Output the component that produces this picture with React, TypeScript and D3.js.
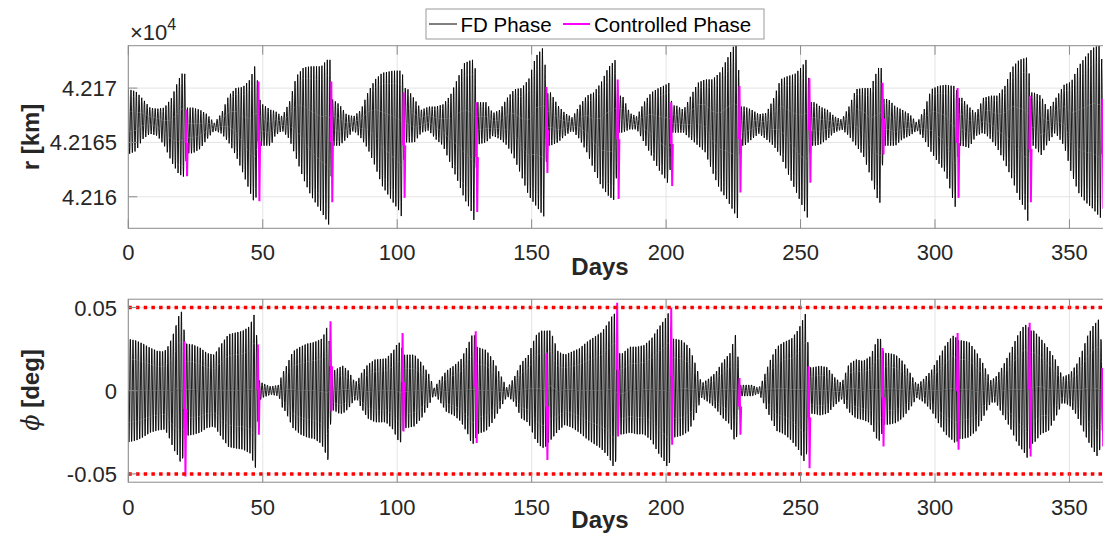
import React from 'react';
import * as d3 from 'd3';

const W = 1103;
const H = 534;
const FONT = '"Liberation Sans", Arial, Helvetica, sans-serif';

// ---- axis ticks ----
const xTickVals = [0, 50, 100, 150, 200, 250, 300, 350];
const rTickVals = [42160, 42165, 42170];
const rTickLabels = ['4.216', '4.2165', '4.217'];
const phiTickVals = [-0.05, 0, 0.05];
const phiTickLabels = ['-0.05', '0', '0.05'];
const phiBounds = [0.05, -0.05];

// ---- r [km] daily-oscillation envelope (FD phase) ----
const rEnvDay = [
  0, 2.8, 5.4, 8.1, 10.8, 13.4, 16.1, 18.7, 20.9,
  21.8, 24, 26.7, 29.3, 32, 34.7, 37.3, 40, 42.6, 45.3, 47.3,
  48.8, 50, 53, 54.6, 57.2, 59.9, 62.5, 65.2, 67.9, 71.8, 73.8, 75.0,
  75.8, 78.5, 81.1, 83.8, 86.5, 89.1, 91.8, 94.4, 98.4, 101, 101.8,
  102.7, 103.7, 106.4, 109, 111.7, 114.3, 117, 119.7, 122.3, 125, 127.7, 128.8,
  129.8, 133, 135.6, 138.2, 140.9, 143.6, 146.2, 148.9, 151.5, 154.5,
  155.8, 157, 159.8, 162.4, 165.1, 167.8, 170.5, 173.1, 175.8, 178.5, 181.1,
  182.3, 183.8, 186.5, 189.1, 191.8, 194.5, 197.2, 199.8, 201.2,
  202.2, 203.8, 206.5, 209.2, 211.9, 214.5, 217.2, 219.9, 222.5, 225.2, 226.6,
  227.6, 229.2, 231.9, 234.5, 237.2, 239.9, 242.5, 245.2, 247.9, 250.6, 252.5,
  253.6, 255.3, 257.3, 260, 262.6, 265.3, 268, 270.6, 273.3, 276, 278.6, 279.9,
  280.8, 282.6, 285.3, 287.9, 290.6, 293.3, 295.9, 298.6, 301.3, 303.9, 306.6, 307.6,
  308.7, 310, 312.6, 315.3, 318, 320.7, 323.3, 326, 328.7, 331.3, 334, 334.5,
  335.6, 336.7, 339.4, 342.1, 344.7, 348, 350.7, 353.3, 356, 358.7, 360.7, 361.8,
  362.6, 365,
];
const rEnvUpper = [
  42169.9, 42169.7, 42169.0, 42168.2, 42168.1, 42168.2, 42169.1, 42170.8, 42171.7,
  42168.2, 42168.2, 42168.0, 42167.6, 42166.8, 42167.7, 42169.3, 42170.0, 42170.1, 42170.8, 42172.2,
  42169.0, 42168.5, 42168.0, 42167.9, 42167.4, 42168.7, 42171.1, 42171.9, 42172.0, 42172.0, 42172.6, 42172.6,
  42169.0, 42168.5, 42167.6, 42167.4, 42168.0, 42169.6, 42170.8, 42171.4, 42171.6, 42171.6, 42171.6,
  42170.0, 42170.0, 42169.0, 42168.0, 42168.3, 42168.3, 42168.5, 42169.3, 42170.8, 42172.3, 42172.6, 42172.6,
  42168.7, 42168.7, 42167.7, 42168.0, 42169.1, 42169.9, 42170.0, 42170.8, 42172.9, 42173.8,
  42169.5, 42169.6, 42168.4, 42167.7, 42167.3, 42168.4, 42169.3, 42169.6, 42170.5, 42171.9, 42172.6,
  42169.3, 42169.3, 42167.7, 42167.4, 42168.7, 42169.6, 42170.0, 42170.3, 42170.5,
  42168.4, 42168.4, 42168.0, 42169.3, 42170.5, 42170.8, 42170.8, 42171.4, 42172.6, 42173.9, 42173.9,
  42168.3, 42168.3, 42168.0, 42167.6, 42167.7, 42169.0, 42170.8, 42171.1, 42171.3, 42172.0, 42172.8,
  42168.7, 42168.7, 42168.3, 42168.0, 42167.4, 42167.1, 42168.3, 42169.9, 42170.0, 42170.0, 42171.7, 42172.2,
  42169.0, 42169.0, 42168.3, 42168.0, 42167.6, 42166.8, 42168.0, 42169.9, 42170.2, 42170.3, 42170.2, 42170.2,
  42169.1, 42169.1, 42168.3, 42167.7, 42169.1, 42169.3, 42169.3, 42170.2, 42171.9, 42172.6, 42172.8, 42172.8,
  42169.6, 42169.6, 42169.3, 42168.0, 42169.0, 42170.3, 42170.6, 42172.0, 42172.9, 42173.7, 42173.9, 42173.9,
  42169.0, 42169.0,
];
const rEnvLower = [
  42163.9, 42164.2, 42165.3, 42165.8, 42165.6, 42164.7, 42163.2, 42162.1, 42161.8,
  42164.0, 42164.0, 42164.4, 42165.3, 42166.1, 42165.8, 42165.0, 42163.8, 42162.2, 42160.4, 42159.2,
  42164.7, 42164.7, 42164.7, 42165.6, 42166.1, 42165.3, 42163.5, 42161.6, 42160.1, 42158.6, 42157.8, 42157.2,
  42164.7, 42164.7, 42165.3, 42166.1, 42165.4, 42164.4, 42162.8, 42161.0, 42159.5, 42158.6, 42158.0,
  42165.0, 42165.0, 42165.0, 42165.9, 42166.1, 42165.3, 42164.7, 42163.1, 42161.6, 42159.8, 42158.6, 42157.6,
  42164.8, 42165.0, 42165.6, 42165.3, 42164.7, 42163.5, 42161.9, 42160.1, 42159.2, 42158.2,
  42164.7, 42164.7, 42165.0, 42165.6, 42166.1, 42165.3, 42164.1, 42162.5, 42161.0, 42160.1, 42159.6,
  42165.9, 42165.9, 42166.2, 42166.2, 42165.0, 42163.8, 42162.5, 42161.6, 42161.0,
  42165.9, 42165.9, 42165.9, 42165.3, 42164.7, 42164.1, 42162.3, 42160.7, 42159.8, 42158.6, 42158.0,
  42164.7, 42164.7, 42165.3, 42165.8, 42165.3, 42164.7, 42163.8, 42162.2, 42160.7, 42159.2, 42158.1,
  42164.7, 42164.7, 42164.8, 42165.3, 42165.9, 42166.2, 42165.6, 42164.7, 42163.8, 42161.9, 42159.8, 42159.3,
  42164.7, 42164.7, 42164.7, 42165.3, 42165.6, 42166.1, 42165.3, 42164.1, 42163.1, 42162.2, 42159.8, 42159.0,
  42164.7, 42164.7, 42164.5, 42165.6, 42165.9, 42165.3, 42164.4, 42163.1, 42161.6, 42159.8, 42158.6, 42157.8,
  42164.7, 42164.7, 42163.8, 42165.0, 42165.9, 42164.7, 42162.2, 42160.4, 42159.5, 42158.9, 42158.3, 42158.0,
  42164.7, 42164.7,
];

// ---- phi [deg] daily-oscillation envelope (FD phase) ----
const phiEnvDay = [
  0, 2.8, 5.4, 8.1, 10.8, 13.4, 14.7, 16.1, 17.4, 18.7, 19.8,
  21.4, 24, 26.7, 29.3, 32, 34.7, 37.3, 40, 42.6, 45.3, 46.6, 47.3,
  48.6, 50, 53, 56, 57.2, 58.6, 61.2, 63.9, 66.5, 69.2, 71.8, 73.2, 74.2,
  75.6, 76.5, 78.5, 79.8, 81.8, 83.8, 85.1, 86.5, 89.1, 91.8, 95.8, 98.4, 100.4, 101.3,
  102.4, 103.7, 106.4, 109, 111.7, 113.7, 115.7, 118.4, 121, 123.7, 126.3, 127.7, 128.6,
  129.6, 133, 135.6, 138.2, 140.9, 143.6, 146.2, 148.9, 151.5, 153.5, 154.8,
  155.9, 157, 159.8, 162.4, 165.1, 167.8, 170.5, 173.1, 175.8, 178.5, 179.8, 180.9,
  182.2, 183.8, 186.5, 189.1, 191.8, 194.5, 197.2, 199.8, 200.9,
  202.3, 203.2, 205.8, 208.5, 210.5, 213.2, 215.9, 218.5, 221.2, 223.8, 225.9,
  227.7, 228.6, 231.9, 234.5, 235.9, 238.6, 241.2, 243.9, 246.6, 249.3, 251.9,
  253.4, 254.6, 257.3, 260, 262.6, 265.3, 268, 270.6, 273.3, 276, 278.6, 279.7,
  280.9, 282.6, 285.3, 287.9, 290.6, 293.3, 295.9, 298.6, 301.3, 303.9, 306.6, 307.7,
  308.8, 310, 312.6, 315.3, 318, 320.7, 322.6, 325.3, 328, 330.7, 333.4, 334.4,
  335.6, 336.7, 339.4, 342.1, 344.7, 347.4, 350.1, 352.7, 354.7, 356.8, 358.8, 360.8,
  362.6, 365,
];
const phiEnvUpper = [
  0.0327, 0.0317, 0.0297, 0.0271, 0.0251, 0.0247, 0.0277, 0.0327, 0.0388, 0.0468, 0.0498,
  0.0297, 0.0291, 0.0271, 0.0237, 0.0227, 0.0297, 0.0357, 0.0367, 0.0378, 0.0408, 0.0478, 0.0478,
  0.0066, 0.0046, 0.0026, 0.0036, 0.0106, 0.0147, 0.0247, 0.0277, 0.0297, 0.0307, 0.0327, 0.0367, 0.0418,
  0.0127, 0.0127, 0.0147, 0.0157, 0.0127, 0.0066, 0.0056, 0.0106, 0.0167, 0.0197, 0.0203, 0.0247, 0.0307, 0.0297,
  0.0227, 0.0227, 0.0227, 0.0177, 0.0106, 0.0016, 0.0066, 0.0127, 0.0157, 0.0197, 0.0287, 0.0347, 0.0357,
  0.0277, 0.0257, 0.0197, 0.0106, 0.0016, 0.0086, 0.0177, 0.0227, 0.0347, 0.0378, 0.0378,
  0.0378, 0.0378, 0.0247, 0.0227, 0.0247, 0.0267, 0.0307, 0.0337, 0.0367, 0.0428, 0.0468, 0.0488,
  0.0237, 0.0237, 0.0277, 0.0277, 0.0287, 0.0327, 0.0398, 0.0458, 0.0492,
  0.0327, 0.0327, 0.0317, 0.0277, 0.0187, 0.0046, 0.0076, 0.0116, 0.0187, 0.0237, 0.0357,
  0.0036, 0.0036, 0.0036, 0.0016, 0.0066, 0.0187, 0.0277, 0.0307, 0.0327, 0.0388, 0.0488,
  0.0147, 0.0147, 0.0157, 0.0147, 0.0086, 0.0046, 0.0167, 0.0197, 0.0187, 0.0217, 0.0327, 0.0327,
  0.0237, 0.0237, 0.0227, 0.0187, 0.0116, 0.0036, 0.0076, 0.0127, 0.0207, 0.0287, 0.0347, 0.0337,
  0.0317, 0.0317, 0.0307, 0.0247, 0.0167, 0.0066, 0.0086, 0.0157, 0.0247, 0.0347, 0.0418, 0.0408,
  0.0378, 0.0378, 0.0327, 0.0267, 0.0197, 0.0086, 0.0106, 0.0167, 0.0247, 0.0347, 0.0408, 0.0448,
  0.0200, 0.0200,
];
const phiEnvLower = [
  -0.0325, -0.0315, -0.0295, -0.0265, -0.0251, -0.0245, -0.0275, -0.0335, -0.0386, -0.0416, -0.0476,
  -0.0285, -0.0279, -0.0265, -0.0235, -0.0225, -0.0295, -0.0355, -0.0365, -0.0371, -0.0396, -0.0456, -0.0486,
  -0.0066, -0.0044, -0.0024, -0.0034, -0.0104, -0.0135, -0.0235, -0.0275, -0.0295, -0.0305, -0.0335, -0.0386, -0.0436,
  -0.0124, -0.0124, -0.0145, -0.0145, -0.0114, -0.0064, -0.0054, -0.0104, -0.0175, -0.0199, -0.0199, -0.0245, -0.0315, -0.0325,
  -0.0235, -0.0235, -0.0225, -0.0175, -0.0094, -0.0024, -0.0064, -0.0135, -0.0155, -0.0195, -0.0275, -0.0335, -0.0335,
  -0.0275, -0.0255, -0.0195, -0.0114, -0.0034, -0.0074, -0.0175, -0.0205, -0.0315, -0.0355, -0.0365,
  -0.0335, -0.0315, -0.0255, -0.0215, -0.0235, -0.0265, -0.0305, -0.0335, -0.0365, -0.0416, -0.0456, -0.0500,
  -0.0275, -0.0275, -0.0265, -0.0275, -0.0275, -0.0315, -0.0396, -0.0456, -0.0500,
  -0.0295, -0.0295, -0.0285, -0.0255, -0.0175, -0.0044, -0.0074, -0.0114, -0.0175, -0.0215, -0.0345,
  -0.0034, -0.0034, -0.0034, -0.0018, -0.0064, -0.0165, -0.0255, -0.0275, -0.0315, -0.0375, -0.0466,
  -0.0145, -0.0145, -0.0155, -0.0145, -0.0094, -0.0054, -0.0135, -0.0175, -0.0185, -0.0205, -0.0315, -0.0315,
  -0.0215, -0.0215, -0.0205, -0.0175, -0.0114, -0.0044, -0.0074, -0.0124, -0.0205, -0.0275, -0.0315, -0.0335,
  -0.0305, -0.0305, -0.0295, -0.0255, -0.0165, -0.0074, -0.0074, -0.0155, -0.0235, -0.0335, -0.0396, -0.0426,
  -0.0335, -0.0335, -0.0275, -0.0255, -0.0175, -0.0074, -0.0094, -0.0155, -0.0235, -0.0315, -0.0375, -0.0426,
  -0.0200, -0.0200,
];

// ---- controlled phases (maneuvers) ----
const ctrlRDay = [21.3, 48.2, 75.3, 102.2, 129.2, 155.3, 181.8, 201.7, 227.1, 253.1, 280.3, 308.2, 335.1, 362.1];
const ctrlRHi = [42168.0, 42170.6, 42170.6, 42169.6, 42168.7, 42170.1, 42170.8, 42168.7, 42170.2, 42170.9, 42170.5, 42170.0, 42169.3, 42169.0];
const ctrlRLo = [42161.9, 42159.6, 42159.5, 42159.9, 42158.6, 42162.2, 42159.8, 42161.0, 42160.4, 42161.3, 42163.9, 42159.9, 42159.5, 42158.9];
const ctrlPhiDay = [20.7, 48.0, 75.0, 101.8, 129.0, 155.3, 181.6, 201.7, 227.1, 252.8, 280.3, 308.2, 335.0, 362.0];
const ctrlPhiHi = [0.0297, 0.0277, 0.0418, 0.0347, 0.0357, 0.0227, 0.0528, 0.0498, 0.0076, 0.0147, 0.0257, 0.0347, 0.0408, 0.0137];
const ctrlPhiLo = [-0.0516, -0.0265, -0.0124, -0.0245, -0.0315, -0.0416, -0.0275, -0.0325, -0.0265, -0.0466, -0.0335, -0.0355, -0.0396, -0.0335];

// ---- layout ----
const X0 = 128.3;
const X1 = 1109.8;
const top = { y0: 45.7, y1: 228.3 };
const bot = { y0: 299.2, y1: 482.2 };
const AXIS_COLOR = '#8a8a8a';
const GRID_COLOR = '#e4e4e4';
const TEXT_COLOR = '#262626';

const x = d3.scaleLinear().domain([0, 365]).range([X0, X1]);
const yR = d3.scaleLinear().domain([42157.1, 42173.9]).range([top.y1, top.y0]);
const yPhi = d3.scaleLinear().domain([-0.055, 0.055]).range([bot.y1, bot.y0]);

function oscPath(days: number[], up: number[], lo: number[], yS: any, phase: number) {
  const uS = d3.scaleLinear().domain(days).range(up).clamp(true);
  const lS = d3.scaleLinear().domain(days).range(lo).clamp(true);
  const pts: [number, number][] = [];
  for (let t = 0; t <= 365.0001; t += 0.1) {
    const u = uS(t);
    const l = lS(t);
    const v = (u + l) / 2 + ((u - l) / 2) * Math.cos(2 * Math.PI * (t + phase));
    pts.push([x(t), yS(v)]);
  }
  return d3.line()(pts) || '';
}

function ctrlPaths(days: number[], hi: number[], lo: number[], yS: any) {
  return days.map((d, i) => {
    const pts: [number, number][] = [
      [x(d), yS((hi[i] + lo[i]) / 2)],
      [x(d + 0.2), yS(hi[i])],
      [x(d + 0.55), yS(lo[i])],
      [x(d + 0.8), yS((hi[i] + lo[i]) / 2)],
    ];
    return d3.line()(pts) || '';
  });
}

function Grid({ y0, y1, yS, yTicks, clipId }: any) {
  return (
    <g>
      {xTickVals.map((v) => (
        <line key={'gx' + v} x1={x(v)} x2={x(v)} y1={y0} y2={y1} stroke={GRID_COLOR} strokeWidth={1} />
      ))}
      {yTicks.map((v: number) => (
        <line key={'gy' + v} x1={X0} x2={X1} y1={yS(v)} y2={yS(v)} stroke={GRID_COLOR} strokeWidth={1} />
      ))}
      <defs>
        <clipPath id={clipId}>
          <rect x={X0} y={y0} width={X1 - X0} height={y1 - y0} />
        </clipPath>
      </defs>
    </g>
  );
}

function Frame({ y0, y1, yS, yTicks, yLabels, labelBase }: any) {
  return (
    <g>
      <rect x={X0} y={y0} width={X1 - X0} height={y1 - y0} fill="none" stroke={AXIS_COLOR} strokeWidth={1} />
      {xTickVals.map((v) => (
        <g key={'tx' + v}>
          <line x1={x(v)} x2={x(v)} y1={y1} y2={y1 - 9} stroke={AXIS_COLOR} />
          <line x1={x(v)} x2={x(v)} y1={y0} y2={y0 + 9} stroke={AXIS_COLOR} />
          <text x={x(v)} y={labelBase} textAnchor="middle" fontSize={22} fill={TEXT_COLOR} fontFamily={FONT}>
            {v}
          </text>
        </g>
      ))}
      {yTicks.map((v: number, i: number) => (
        <g key={'ty' + v}>
          <line x1={X0} x2={X0 + 9} y1={yS(v)} y2={yS(v)} stroke={AXIS_COLOR} />
          <text x={117} y={yS(v) + 8} textAnchor="end" fontSize={22} fill={TEXT_COLOR} fontFamily={FONT}>
            {yLabels[i]}
          </text>
        </g>
      ))}
    </g>
  );
}

export default function App() {
  const rBlack = oscPath(rEnvDay, rEnvUpper, rEnvLower, yR, 0);
  const phiBlack = oscPath(phiEnvDay, phiEnvUpper, phiEnvLower, yPhi, 0.25);
  const rCtrl = ctrlPaths(ctrlRDay, ctrlRHi, ctrlRLo, yR);
  const phiCtrl = ctrlPaths(ctrlPhiDay, ctrlPhiHi, ctrlPhiLo, yPhi);

  return (
    <svg
      width={W}
      height={H}
      style={{ position: 'absolute', left: 0, top: 0, display: 'block', background: '#fff' }}
      fontFamily={FONT}
    >
      <rect x={0} y={0} width={W} height={H} fill="#fff" />

      {/* top axes */}
      <Grid y0={top.y0} y1={top.y1} yS={yR} yTicks={rTickVals} clipId="clipTop" />
      <g clipPath="url(#clipTop)">
        <path d={rBlack} fill="none" stroke="#000" strokeWidth={0.9} />
        {rCtrl.map((d, i) => (
          <path key={'rc' + i} d={d} fill="none" stroke="#ff00ff" strokeWidth={2} />
        ))}
      </g>
      <Frame y0={top.y0} y1={top.y1} yS={yR} yTicks={rTickVals} yLabels={rTickLabels} labelBase={259.5} />

      {/* bottom axes */}
      <Grid y0={bot.y0} y1={bot.y1} yS={yPhi} yTicks={phiTickVals} clipId="clipBot" />
      <g clipPath="url(#clipBot)">
        <path d={phiBlack} fill="none" stroke="#000" strokeWidth={0.9} />
        {phiCtrl.map((d, i) => (
          <path key={'pc' + i} d={d} fill="none" stroke="#ff00ff" strokeWidth={2} />
        ))}
        {phiBounds.map((b) => (
          <line
            key={'b' + b}
            x1={X0}
            x2={X1}
            y1={yPhi(b)}
            y2={yPhi(b)}
            stroke="#ff0000"
            strokeWidth={3.5}
            strokeDasharray="3.5 4.2"
          />
        ))}
      </g>
      <Frame y0={bot.y0} y1={bot.y1} yS={yPhi} yTicks={phiTickVals} yLabels={phiTickLabels} labelBase={514.5} />

      {/* exponent */}
      <text x={130} y={40} fontSize={22} fill={TEXT_COLOR}>
        ×10
        <tspan dy={-10} fontSize={16}>4</tspan>
      </text>

      {/* axis labels */}
      <text x={600} y={275} textAnchor="middle" fontSize={24} fontWeight="bold" fill={TEXT_COLOR}>
        Days
      </text>
      <text x={600} y={528} textAnchor="middle" fontSize={24} fontWeight="bold" fill={TEXT_COLOR}>
        Days
      </text>
      <text
        transform="translate(39,137) rotate(-90)"
        textAnchor="middle"
        fontSize={24}
        fontWeight="bold"
        fill={TEXT_COLOR}
      >
        r [km]
      </text>
      <text
        transform="translate(39,390) rotate(-90)"
        textAnchor="middle"
        fontSize={24}
        fontWeight="bold"
        fill={TEXT_COLOR}
      >
        <tspan fontStyle="italic" fontWeight="normal" fontFamily='"DejaVu Serif", serif'>ϕ</tspan>
        <tspan> [deg]</tspan>
      </text>

      {/* legend */}
      <g>
        <rect x={426} y={9} width={338} height={30} fill="#fff" stroke="#9a9a9a" strokeWidth={1} />
        <line x1={429} x2={457} y1={24} y2={24} stroke="#000" strokeWidth={1} />
        <text x={460.5} y={31.5} fontSize={20.5} fill="#000">FD Phase</text>
        <line x1={563} x2={590} y1={24} y2={24} stroke="#ff00ff" strokeWidth={2} />
        <text x={594} y={31.5} fontSize={20.5} fill="#000">Controlled Phase</text>
      </g>
    </svg>
  );
}
